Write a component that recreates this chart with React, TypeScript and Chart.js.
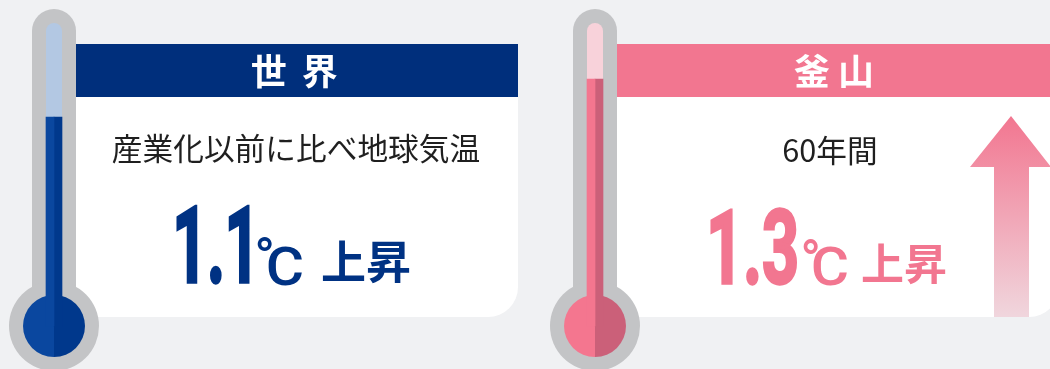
import React, { useEffect, useRef } from "react";
import { Chart, registerables } from "chart.js";

Chart.register(...registerables);

// Rise in temperature for each region, in degrees
const categories = ["世 界", "釜山"];
const captions = ["産業化以前に比べ地球気温", "60年間"];
const riseValues = [1.1, 1.3];

const WIDTH = 1050;
const HEIGHT = 369;
const UNIT_X = 541; // horizontal distance between the two cards
const UNIT_Y = 190; // pixels per degree along the thermometer
const ORIGIN_X = 54; // centre of the first thermometer
const ORIGIN_Y = 326; // centre of the bulb, where the scale reads zero
const TUBE_TOP = 303 / UNIT_Y; // reading at the top of the glass

const palettes = [
  { head: "#002f7c", lightFill: "#0a479f", darkFill: "#00388c", track: "#b3c8e3", text: "#003283" },
  { head: "#f27690", lightFill: "#f4768f", darkFill: "#cb6079", track: "#f8d2da", text: "#f27690" },
];

// Placement of the header and caption text on each card
const headerStyle = [
  { x: 296, spacing: "3.5px" },
  { x: 838, spacing: "8px" },
];
const captionStyle = [
  { x: 296, y: 160, size: 30.7 },
  { x: 830, y: 162, size: 30.7 },
];

// Bounding boxes of the large figures on each card: number, ring and letter of the degree sign, verb
const figureBoxes = [
  { num: [177, 249, 207, 283], ring: [257, 272, 235, 250], letter: [268, 302, 247, 285], verb: [322, 410, 240, 284] },
  { num: [711, 796, 209, 284], ring: [803, 818, 237, 253], letter: [813, 847, 246, 285], verb: [862, 946, 243, 285] },
];

const CJK = '"Noto Sans CJK JP"';

function fitText(
  ctx: CanvasRenderingContext2D,
  text: string,
  font: string,
  box: number[],
  color: string,
  stroke = 0
) {
  const [x0, x1, y0, y1] = box;
  ctx.save();
  ctx.font = font;
  ctx.fillStyle = color;
  ctx.textAlign = "left";
  ctx.textBaseline = "alphabetic";
  const m = ctx.measureText(text);
  const w = m.actualBoundingBoxLeft + m.actualBoundingBoxRight;
  const h = m.actualBoundingBoxAscent + m.actualBoundingBoxDescent;
  ctx.translate(x0, y1);
  ctx.scale((x1 - x0) / w, (y1 - y0) / h);
  ctx.translate(m.actualBoundingBoxLeft, -m.actualBoundingBoxDescent);
  ctx.fillText(text, 0, 0);
  if (stroke > 0) {
    ctx.strokeStyle = color;
    ctx.lineWidth = stroke;
    ctx.strokeText(text, 0, 0);
  }
  ctx.restore();
}

function centredText(
  ctx: CanvasRenderingContext2D,
  text: string,
  font: string,
  x: number,
  y: number,
  color: string,
  spacing = "0px"
) {
  ctx.save();
  ctx.font = font;
  ctx.fillStyle = color;
  (ctx as any).letterSpacing = spacing;
  ctx.textAlign = "center";
  ctx.textBaseline = "alphabetic";
  ctx.fillText(text, x, y);
  ctx.restore();
}

const infographic = {
  id: "infographic",
  beforeDatasetsDraw(chart: Chart) {
    const { ctx, scales } = chart;
    const xs = scales.x;
    const ys = scales.y;
    ctx.save();
    ctx.fillStyle = "#f0f1f3";
    ctx.fillRect(0, 0, WIDTH, HEIGHT);

    categories.forEach((_, i) => {
      const cx = xs.getPixelForValue(i);
      const cy = ys.getPixelForValue(0);
      const topY = ys.getPixelForValue(TUBE_TOP);
      const pal = palettes[i];
      const left = cx + 22;
      const right = left + 442;

      // Card body with its rounded lower corner, then the coloured header
      ctx.fillStyle = "#ffffff";
      ctx.beginPath();
      ctx.roundRect(left, 97, right - left, 220, [0, 0, 30, 0]);
      ctx.fill();
      ctx.fillStyle = pal.head;
      ctx.fillRect(left, 44, right - left, 53);

      // Glass of the thermometer
      ctx.fillStyle = "#c3c4c6";
      ctx.beginPath();
      ctx.roundRect(cx - 22, topY - 14, 44, cy - topY + 14, 22);
      ctx.fill();
      ctx.beginPath();
      ctx.arc(cx, cy, 45, 0, Math.PI * 2);
      ctx.fill();

      // Empty part of the tube
      ctx.fillStyle = pal.track;
      ctx.beginPath();
      ctx.roundRect(cx - 8, topY, 16, cy - topY, [8, 8, 0, 0]);
      ctx.fill();

      // Bulb, split into a lit and a shaded half
      ctx.fillStyle = pal.lightFill;
      ctx.beginPath();
      ctx.arc(cx, cy, 31, Math.PI / 2, (Math.PI * 3) / 2);
      ctx.fill();
      ctx.fillStyle = pal.darkFill;
      ctx.beginPath();
      ctx.arc(cx, cy, 31, -Math.PI / 2, Math.PI / 2);
      ctx.fill();
    });

    // Rising arrow on the second card
    const grad = ctx.createLinearGradient(0, 116, 0, 317);
    grad.addColorStop(0, "#f27690");
    grad.addColorStop(1, "#f0d6dd");
    ctx.fillStyle = grad;
    ctx.beginPath();
    ctx.moveTo(1011, 116);
    ctx.lineTo(1051, 167);
    ctx.lineTo(1029, 167);
    ctx.lineTo(1029, 317);
    ctx.lineTo(994, 317);
    ctx.lineTo(994, 167);
    ctx.lineTo(970, 167);
    ctx.closePath();
    ctx.fill();
    ctx.restore();
  },
  afterDatasetsDraw(chart: Chart) {
    const { ctx } = chart;
    categories.forEach((name, i) => {
      const pal = palettes[i];
      centredText(ctx, name, `700 36px ${CJK}`, headerStyle[i].x, 85, "#ffffff", headerStyle[i].spacing);
      const cap = captionStyle[i];
      centredText(ctx, captions[i], `400 ${cap.size}px ${CJK}`, cap.x, cap.y, "#1f1f1f");
      const box = figureBoxes[i];
      fitText(ctx, riseValues[i].toFixed(1), `700 108px Roboto`, box.num, pal.text, 3.5);
      fitText(ctx, "°", `500 40px Roboto`, box.ring, pal.text);
      fitText(ctx, "C", `500 50px Roboto`, box.letter, pal.text);
      fitText(ctx, "上昇", `700 44px ${CJK}`, box.verb, pal.text);
    });
  },
};

export default function App() {
  const ref = useRef<HTMLCanvasElement | null>(null);

  useEffect(() => {
    if (!ref.current) return;
    const points = riseValues.map((y, x) => ({ x, y }));
    const chart = new Chart(ref.current, {
      type: "bar",
      data: {
        datasets: [
          {
            label: "lit half",
            data: points,
            backgroundColor: palettes.map((p) => p.lightFill),
            barThickness: 8,
          },
          {
            label: "shaded half",
            data: points,
            backgroundColor: palettes.map((p) => p.darkFill),
            barThickness: 8,
          },
        ],
      },
      options: {
        responsive: false,
        maintainAspectRatio: false,
        animation: false,
        layout: { padding: 0 },
        plugins: { legend: { display: false }, tooltip: { enabled: false }, title: { display: false } },
        scales: {
          x: {
            type: "linear",
            display: false,
            offset: false,
            min: -ORIGIN_X / UNIT_X,
            max: (WIDTH - ORIGIN_X) / UNIT_X,
          },
          y: {
            type: "linear",
            display: false,
            min: -(HEIGHT - ORIGIN_Y) / UNIT_Y,
            max: ORIGIN_Y / UNIT_Y,
          },
        },
      },
      plugins: [infographic],
    });
    return () => chart.destroy();
  }, []);

  return (
    <div style={{ position: "fixed", left: 0, top: 0, width: WIDTH, height: HEIGHT, overflow: "hidden" }}>
      <canvas ref={ref} width={WIDTH} height={HEIGHT} style={{ display: "block" }} />
    </div>
  );
}
